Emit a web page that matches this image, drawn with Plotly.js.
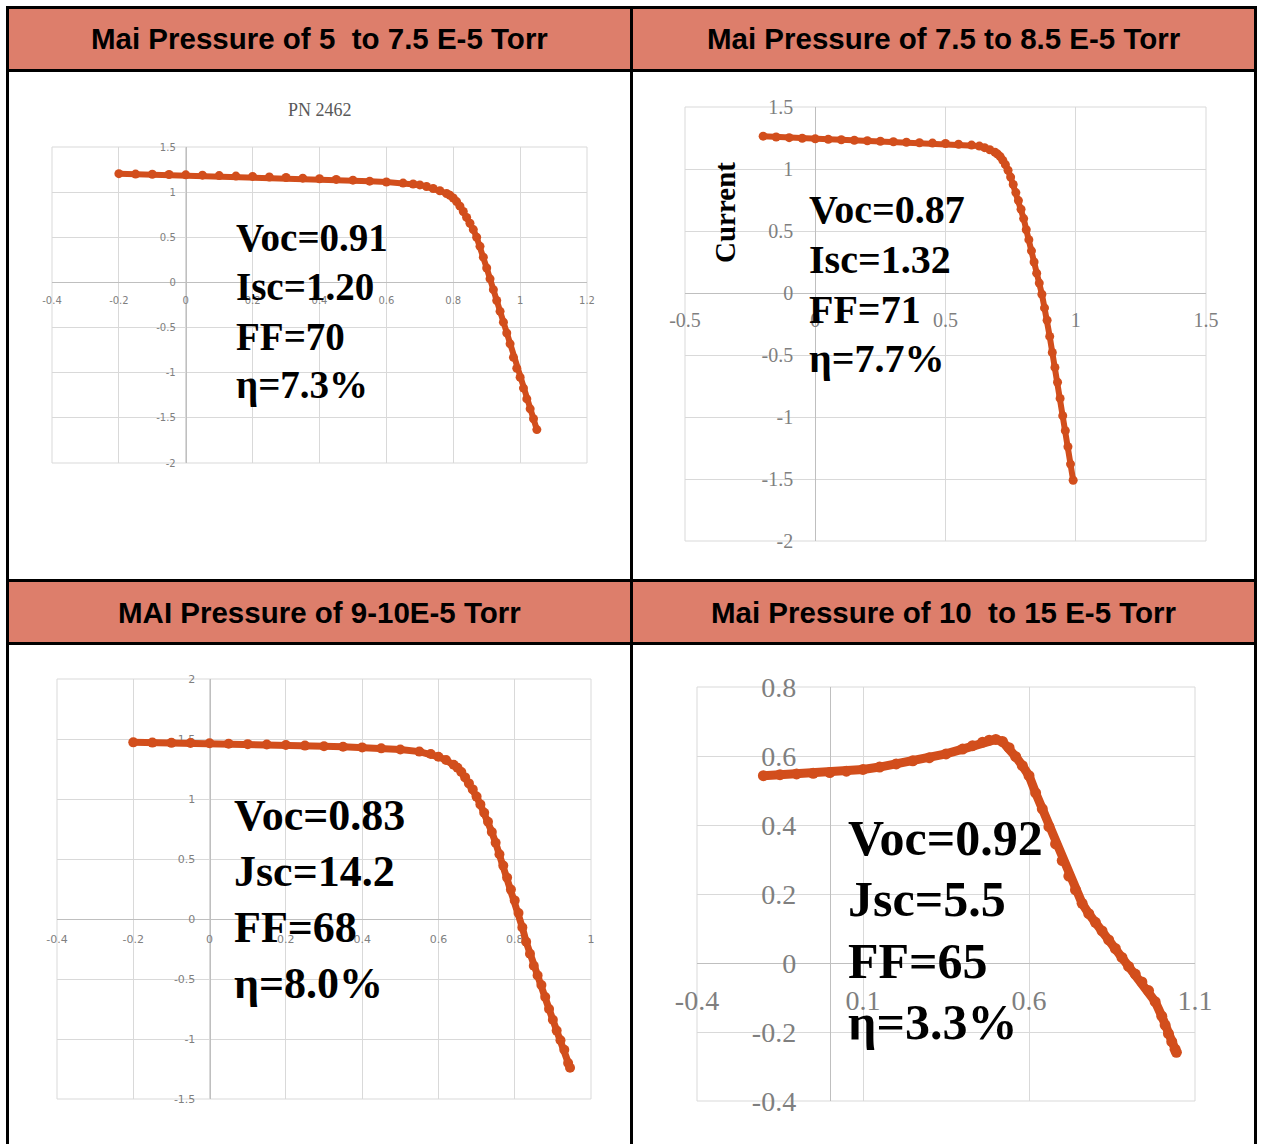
<!DOCTYPE html>
<html><head><meta charset="utf-8">
<script src="https://cdn.plot.ly/plotly-3.0.1.min.js"></script>
<style>html,body{margin:0;padding:0;background:#fff}</style>
</head><body><div id="chart" style="width:1261px;height:1144px"></div>
<script>
// ---------------- DATA ----------------
const headers = ['Mai Pressure of 5\u00a0 to 7.5 E-5 Torr', 'Mai Pressure of 7.5 to 8.5 E-5 Torr',
                 'MAI Pressure of 9-10E-5 Torr', 'Mai Pressure of 10\u00a0 to 15 E-5 Torr'];

// Panel 1 (PN 2462)
const v1 = [-0.20,-0.15,-0.10,-0.05,0.00,0.05,0.10,0.15,0.20,0.25,0.30,0.35,0.40,0.45,0.50,0.55,0.60,0.65,0.68,0.70,0.72,0.74,0.76,0.78,0.79,0.80,0.81,0.82,0.83,0.84,0.85,0.86,0.87,0.88,0.89,0.90,0.91,0.92,0.93,0.94,0.95,0.96,0.97,0.98,0.99,1.00,1.01,1.02,1.03,1.04,1.05];
const i1 = [1.205,1.200,1.198,1.195,1.192,1.188,1.183,1.178,1.174,1.168,1.162,1.155,1.148,1.141,1.133,1.122,1.112,1.100,1.090,1.080,1.062,1.040,1.015,0.985,0.965,0.935,0.895,0.845,0.785,0.720,0.655,0.585,0.500,0.400,0.280,0.160,0.040,-0.080,-0.200,-0.320,-0.440,-0.560,-0.680,-0.830,-0.950,-1.050,-1.170,-1.290,-1.400,-1.510,-1.630];
const stats1 = ['Voc=0.91','Isc=1.20','FF=70','\u03b7=7.3%'];
const title1 = 'PN 2462';
const xTicks1 = [-0.4,-0.2,0,0.2,0.4,0.6,0.8,1,1.2];
const xText1  = ['-0.4','-0.2','0','0.2','0.4','0.6','0.8','1','1.2'];
const yTicks1 = [-2,-1.5,-1,-0.5,0,0.5,1,1.5];
const yText1  = ['-2','-1.5','-1','-0.5','0','0.5','1','1.5'];

// Panel 2
const v2 = [-0.20,-0.15,-0.10,-0.05,0.00,0.05,0.10,0.15,0.20,0.25,0.30,0.35,0.40,0.45,0.50,0.55,0.60,0.63,0.65,0.67,0.69,0.70,0.71,0.72,0.73,0.74,0.75,0.76,0.77,0.78,0.79,0.80,0.81,0.82,0.83,0.84,0.85,0.86,0.87,0.88,0.89,0.90,0.91,0.92,0.93,0.94,0.95,0.96,0.97,0.98,0.99];
const i2 = [1.265,1.258,1.253,1.248,1.243,1.240,1.236,1.232,1.228,1.224,1.220,1.216,1.212,1.209,1.206,1.200,1.193,1.185,1.172,1.155,1.135,1.120,1.100,1.070,1.035,0.990,0.935,0.875,0.810,0.745,0.675,0.600,0.510,0.430,0.340,0.250,0.160,0.080,-0.010,-0.120,-0.220,-0.350,-0.480,-0.600,-0.720,-0.850,-0.990,-1.110,-1.240,-1.380,-1.510];
const stats2 = ['Voc=0.87','Isc=1.32','FF=71','\u03b7=7.7%'];
const yTitle2 = 'Current';
const xTicks2 = [-0.5,0,0.5,1,1.5];
const xText2  = ['-0.5','0','0.5','1','1.5'];
const yTicks2 = [-2,-1.5,-1,-0.5,0,0.5,1,1.5];
const yText2  = ['-2','-1.5','-1','-0.5','0','0.5','1','1.5'];

// Panel 3
const v3 = [-0.20,-0.15,-0.10,-0.05,0.00,0.05,0.10,0.15,0.20,0.25,0.30,0.35,0.40,0.45,0.50,0.55,0.58,0.60,0.62,0.64,0.65,0.66,0.67,0.68,0.69,0.70,0.71,0.72,0.73,0.74,0.75,0.76,0.77,0.78,0.79,0.80,0.81,0.82,0.83,0.84,0.85,0.86,0.87,0.88,0.89,0.90,0.91,0.92,0.93,0.94,0.945];
const i3 = [1.472,1.470,1.468,1.466,1.464,1.461,1.457,1.454,1.450,1.445,1.440,1.435,1.430,1.422,1.412,1.395,1.375,1.352,1.325,1.285,1.260,1.225,1.180,1.130,1.080,1.020,0.955,0.885,0.810,0.725,0.635,0.540,0.445,0.345,0.245,0.155,0.050,-0.070,-0.190,-0.290,-0.390,-0.470,-0.550,-0.650,-0.750,-0.840,-0.930,-1.010,-1.090,-1.200,-1.240];
const stats3 = ['Voc=0.83','Jsc=14.2','FF=68','\u03b7=8.0%'];
const xTicks3 = [-0.4,-0.2,0,0.2,0.4,0.6,0.8,1];
const xText3  = ['-0.4','-0.2','0','0.2','0.4','0.6','0.8','1'];
const yTicks3 = [-1.5,-1,-0.5,0,0.5,1,1.5,2];
const yText3  = ['-1.5','-1','-0.5','0','0.5','1','1.5','2'];

// Panel 4
const v4 = [-0.20,-0.15,-0.10,-0.05,0.00,0.05,0.10,0.15,0.20,0.25,0.30,0.35,0.40,0.43,0.46,0.48,0.50,0.52,0.54,0.56,0.58,0.60,0.62,0.64,0.66,0.68,0.70,0.72,0.74,0.76,0.78,0.80,0.82,0.84,0.86,0.88,0.90,0.92,0.94,0.96,0.98,1.00,1.01,1.02,1.03,1.04,1.044];
const i4 = [0.543,0.546,0.548,0.550,0.552,0.556,0.561,0.568,0.577,0.586,0.595,0.606,0.620,0.630,0.640,0.646,0.648,0.642,0.624,0.598,0.572,0.543,0.493,0.447,0.395,0.345,0.297,0.252,0.212,0.173,0.143,0.118,0.093,0.067,0.042,0.016,-0.010,-0.032,-0.055,-0.080,-0.112,-0.154,-0.180,-0.205,-0.228,-0.250,-0.259];
const stats4 = ['Voc=0.92','Jsc=5.5','FF=65','\u03b7=3.3%'];
const xTicks4 = [-0.4,0.1,0.6,1.1];
const xText4  = ['-0.4','0.1','0.6','1.1'];
const yTicks4 = [-0.4,-0.2,0,0.2,0.4,0.6,0.8];
const yText4  = ['-0.4','-0.2','0','0.2','0.4','0.6','0.8'];

// ---------------- LAYOUT ----------------
const W = 1261, H = 1144;
const fx = p => p / W;
const fy = p => 1 - p / H;
const DOT = '#d24e1c';
const GRID = '#d9d9d9';
const AXL = '#bfbfbf';
const SANS = 'Liberation Sans, Arial, sans-serif';
const SERIF = 'Liberation Serif, Times New Roman, serif';

const panels = [
  {v:v1,i:i1,stats:stats1,xt:xTicks1,xs:xText1,yt:yTicks1,ys:yText1,
   box:{l:52,r:587,t:147,b:463}, xr:[-0.4,1.2], yr:[-2,1.5],
   tf:{family:'DejaVu Sans, sans-serif',size:10,color:'#7f7f7f'}, xso:9, yso:8,
   st:{x:234,y0:238,dy:49,size:39}, ms:9, lw:6},
  {v:v2,i:i2,stats:stats2,xt:xTicks2,xs:xText2,yt:yTicks2,ys:yText2,
   box:{l:685,r:1206,t:107,b:541}, xr:[-0.5,1.5], yr:[-2,1.5],
   tf:{family:SERIF,size:20,color:'#7f7f7f'}, xso:9, yso:18,
   st:{x:807,y0:210,dy:49.5,size:40}, ms:9, lw:6},
  {v:v3,i:i3,stats:stats3,xt:xTicks3,xs:xText3,yt:yTicks3,ys:yText3,
   box:{l:57,r:591,t:679,b:1099}, xr:[-0.4,1.0], yr:[-1.5,2],
   tf:{family:'DejaVu Sans, sans-serif',size:11,color:'#7f7f7f'}, xso:10, yso:12,
   st:{x:232,y0:815,dy:56,size:44}, ms:10, lw:7},
  {v:v4,i:i4,stats:stats4,xt:xTicks4,xs:xText4,yt:yTicks4,ys:yText4,
   box:{l:697,r:1195,t:687,b:1101}, xr:[-0.4,1.1], yr:[-0.4,0.8],
   tf:{family:SERIF,size:28,color:'#7f7f7f'}, xso:12, yso:28,
   st:{x:846,y0:838,dy:61.3,size:50}, ms:11, lw:9}
];

const data = [];
const layout = {
  width: W, height: H, margin:{l:0,r:0,t:0,b:0},
  paper_bgcolor:'#ffffff', plot_bgcolor:'rgba(0,0,0,0)', showlegend:false,
  shapes:[], annotations:[]
};

panels.forEach((p, k) => {
  const n = k === 0 ? '' : String(k + 1);
  const xd = [fx(p.box.l), fx(p.box.r)];
  const yd = [fy(p.box.b), fy(p.box.t)];
  const yZero = yd[0] + (0 - p.yr[0]) / (p.yr[1] - p.yr[0]) * (yd[1] - yd[0]);
  const xZero = xd[0] + (0 - p.xr[0]) / (p.xr[1] - p.xr[0]) * (xd[1] - xd[0]);
  layout['xaxis' + n] = {
    domain: xd, range: p.xr, anchor:'free', position: yZero,
    showline:true, linecolor:AXL, linewidth:1, showgrid:true, gridcolor:GRID, gridwidth:1,
    zeroline:false, ticks:'', tickmode:'array', tickvals:p.xt, ticktext:p.xs,
    tickfont:p.tf, ticklabelstandoff:p.xso, layer:'below traces', fixedrange:true
  };
  layout['yaxis' + n] = {
    domain: yd, range: p.yr, anchor:'free', position: xZero,
    showline:true, linecolor:AXL, linewidth:1, showgrid:true, gridcolor:GRID, gridwidth:1,
    zeroline:false, ticks:'', tickmode:'array', tickvals:p.yt, ticktext:p.ys,
    tickfont:p.tf, ticklabelstandoff:p.yso, layer:'below traces', fixedrange:true
  };
  data.push({
    type:'scatter', mode:'lines+markers', x:p.v, y:p.i,
    xaxis:'x' + n, yaxis:'y' + n, cliponaxis:false, hoverinfo:'skip',
    line:{color:DOT, width:p.lw}, marker:{color:DOT, size:p.ms}
  });
  // plot frame
  layout.shapes.push({type:'rect', xref:'x' + n + ' domain', yref:'y' + n + ' domain',
    x0:0, x1:1, y0:0, y1:1, line:{color:GRID, width:1}, layer:'below'});
  // stats text
  p.stats.forEach((s, j) => {
    layout.annotations.push({
      text:s, xref:'paper', yref:'paper', x:fx(p.st.x), y:fy(p.st.y0 + j * p.st.dy),
      xanchor:'left', yanchor:'middle', showarrow:false,
      font:{family:SERIF, size:p.st.size, color:'#000000', weight:'bold'}
    });
  });
});

// chart title and axis title
layout.annotations.push({text:title1, xref:'paper', yref:'paper', x:fx(320), y:fy(110),
  xanchor:'center', yanchor:'middle', showarrow:false,
  font:{family:SERIF, size:18, color:'#595959'}});
layout.annotations.push({text:yTitle2, xref:'paper', yref:'paper', x:fx(725), y:fy(213),
  xanchor:'center', yanchor:'middle', showarrow:false, textangle:-90,
  font:{family:SERIF, size:29, color:'#000000', weight:'bold'}});

// table: header fills
const HEAD = '#dd7e6b';
[[9,69],[582,642]].forEach(([t,b]) => {
  layout.shapes.push({type:'rect', xref:'paper', yref:'paper', x0:fx(9), x1:fx(1254),
    y0:fy(b), y1:fy(t), fillcolor:HEAD, line:{width:0}, layer:'below'});
});
// table: black borders
const borders = [
  [6,1257,6,9],[6,1257,69,72],[6,1257,579,582],[6,1257,642,645],
  [6,9,6,1144],[630,633,6,1144],[1254,1257,6,1144]
];
borders.forEach(([l,r,t,b]) => {
  layout.shapes.push({type:'rect', xref:'paper', yref:'paper', x0:fx(l), x1:fx(r),
    y0:fy(b), y1:fy(t), fillcolor:'#000000', line:{width:0}, layer:'above'});
});
// header texts
const hpos = [[319.5,39],[943.5,39],[319.5,612],[943.5,612]];
headers.forEach((h, k) => {
  layout.annotations.push({text:h, xref:'paper', yref:'paper', x:fx(hpos[k][0]), y:fy(hpos[k][1]),
    xanchor:'center', yanchor:'middle', showarrow:false,
    font:{family:SANS, size:29.5, color:'#000000', weight:'bold'}});
});

Plotly.newPlot('chart', data, layout, {staticPlot:true, displayModeBar:false});
</script></body></html>
